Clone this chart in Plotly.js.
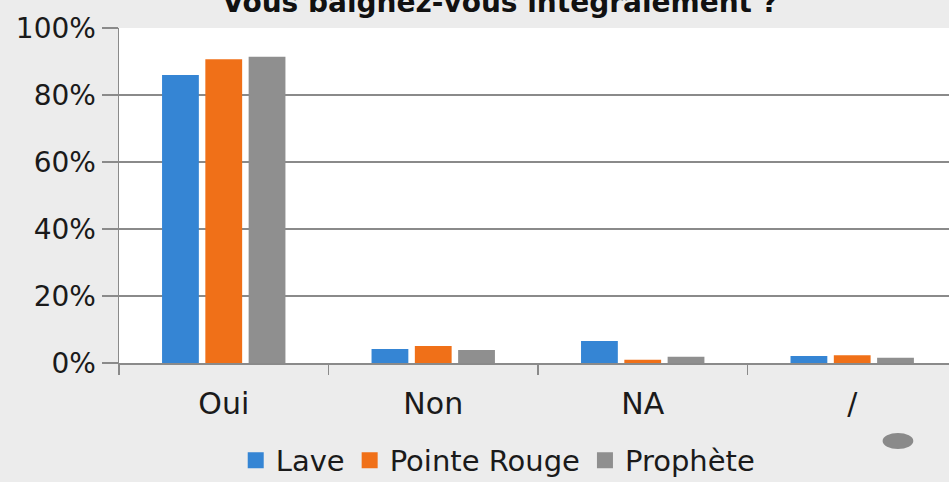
<!DOCTYPE html>
<html>
<head>
<meta charset="utf-8">
<script src="https://cdn.plot.ly/plotly-3.0.1.min.js"></script>
<style>html,body{margin:0;padding:0;background:#ececec;}#chart{width:949px;height:482px;}</style>
</head>
<body>
<div id="chart"></div>
<script>
var categories = ["Oui", "Non", "NA", "/"];
var seriesNames = ["Lave", "Pointe Rouge", "Prophète"];
var lave = [0.86, 0.042, 0.066, 0.021];
var pointeRouge = [0.907, 0.051, 0.010, 0.023];
var prophete = [0.914, 0.039, 0.019, 0.016];
var colors = ["#3585d4", "#f07018", "#8f8f8f"];
var titleText = "Vous baignez-vous intégralement ?";

var values = [lave, pointeRouge, prophete];
var traces = [];
values.forEach(function (v, i) {
  traces.push({
    type: "bar", x: categories, y: v, name: seriesNames[i],
    marker: {color: colors[i]}, showlegend: false, hoverinfo: "skip"
  });
});
values.forEach(function (v, i) {
  traces.push({
    type: "scatter", mode: "markers", x: [null], y: [null], name: seriesNames[i],
    marker: {color: colors[i], symbol: "square", size: 17}, showlegend: true
  });
});

var font = "'DejaVu Sans', sans-serif";
var layout = {
  width: 949, height: 482,
  paper_bgcolor: "#ececec", plot_bgcolor: "#ffffff",
  margin: {l: 119, r: 0, t: 28, b: 119},
  font: {family: font, size: 28, color: "#1a1a1a"},
  title: {text: "<b>" + titleText + "</b>", x: 0.527, xanchor: "center", y: 0.996, yref: "container", yanchor: "middle",
          font: {family: font, size: 28, color: "#111111"}},
  barmode: "group", bargap: 0.38, bargroupgap: 0.15,
  xaxis: {
    type: "category", range: [-0.5, 3.462], fixedrange: true,
    showline: true, linecolor: "#8a8a8a", linewidth: 1.5,
    ticks: "outside", tickson: "boundaries", ticklen: 10, tickcolor: "#8a8a8a", tickwidth: 1.5,
    ticklabelstandoff: 13, showgrid: false,
    tickfont: {family: font, size: 30, color: "#1a1a1a"}
  },
  yaxis: {
    range: [0, 1], dtick: 0.2, tickformat: ".0%", fixedrange: true,
    showline: true, linecolor: "#8a8a8a", linewidth: 1.5,
    ticks: "outside", ticklen: 16, tickcolor: "#8a8a8a", tickwidth: 1.5,
    gridcolor: "#8a8a8a", gridwidth: 1.5, zeroline: false,
    tickfont: {family: font, size: 28, color: "#1a1a1a"}
  },
  legend: {orientation: "h", xref: "container", yref: "container", x: 0.525, xanchor: "center",
           y: 0.045, yanchor: "middle",
           bgcolor: "rgba(0,0,0,0)", font: {family: font, size: 29, color: "#1a1a1a"},
           itemwidth: 30, tracegroupgap: 0},
  shapes: [{type: "circle", xref: "paper", yref: "paper", x0: 0.920, x1: 0.957, y0: -0.257, y1: -0.209,
            fillcolor: "#8a8a8a", line: {width: 0}}]
};

Plotly.newPlot("chart", traces, layout, {displayModeBar: false, staticPlot: true});
</script>
</body>
</html>
